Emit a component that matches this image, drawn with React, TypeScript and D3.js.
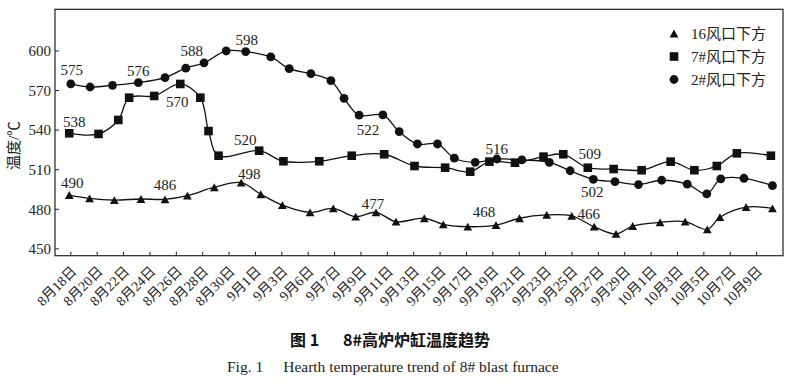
import React from "react";
import * as d3 from "d3";

// ---- data ----
const tickLabels = [
  "8月18日", "8月20日", "8月22日", "8月24日", "8月26日", "8月28日", "8月30日",
  "9月1日", "9月3日", "9月6日", "9月7日", "9月9日", "9月11日", "9月13日", "9月15日",
  "9月17日", "9月19日", "9月21日", "9月23日", "9月25日", "9月27日", "9月29日",
  "10月1日", "10月3日", "10月5日", "10月7日", "10月9日",
];
const yTicks = [450, 480, 510, 540, 570, 600];

// series "2#风口下方" (circles): x in tick-index units
const circleX = [0, 0.73, 1.58, 2.56, 3.57, 4.36, 5.05, 5.89, 6.63, 7.58, 8.28, 9.10, 9.86, 10.36, 10.93, 11.83, 12.45, 13.14, 13.90, 14.54, 15.33, 16.15, 17.10, 18.14, 18.93, 19.81, 20.63, 21.52, 22.40, 23.37, 24.11, 24.64, 25.52, 26.60];
const circleY = [575, 572.7, 574, 576, 579.8, 587, 591, 600, 599.5, 595.5, 586.6, 582.8, 577.5, 564.1, 551.3, 551.5, 538.8, 529.5, 529.5, 518.7, 515.6, 518.1, 517.4, 515.6, 509.2, 502.7, 500.9, 498.7, 502, 499, 491.6, 503, 503.5, 497.9];

// series "7#风口下方" (squares)
const squareX = [-0.06, 1.05, 1.80, 2.21, 3.16, 4.15, 4.91, 5.22, 5.60, 7.14, 8.06, 9.42, 10.65, 11.88, 13.03, 14.19, 15.14, 15.87, 16.84, 17.92, 18.67, 19.60, 20.58, 21.64, 22.74, 23.64, 24.49, 25.25, 26.54];
const squareY = [537.6, 537.1, 547.7, 564.6, 565.9, 575, 564.6, 539.3, 520.6, 524.4, 516.4, 516.4, 520.6, 521.7, 512.8, 511.5, 508.5, 516.1, 515.3, 519.9, 521.7, 511.5, 510.5, 509.6, 516.1, 509.6, 512.8, 522.4, 520.6];

// series "16风口下方" (triangles)
const triX = [-0.06, 0.71, 1.65, 2.66, 3.57, 4.42, 5.44, 6.46, 7.20, 8.02, 9.07, 9.95, 10.80, 11.57, 12.33, 13.40, 14.12, 15.05, 16.12, 17.01, 18.04, 18.99, 19.84, 20.67, 21.30, 22.34, 23.29, 24.13, 24.61, 25.60, 26.60];
const triY = [490.8, 488.3, 487, 487.8, 487.5, 490.3, 496.7, 500.2, 491.4, 483.2, 477.7, 480.7, 474.4, 477.7, 470.6, 473.2, 468.6, 466.8, 468, 473.2, 475.7, 475, 466.8, 461.3, 467.3, 470.1, 470.6, 464.8, 474, 481.6, 480.7];

const seriesNames = ["16风口下方", "7#风口下方", "2#风口下方"];

// value annotations: series key, point index, text
const annSeries = ["c", "c", "c", "c", "c", "c", "c", "s", "s", "s", "s", "t", "t", "t", "t", "t", "t"];
const annIndex = [0, 3, 5, 8, 14, 21, 25, 0, 5, 9, 21, 0, 4, 7, 13, 18, 21];
const annText = ["575", "576", "588", "598", "522", "516", "502", "538", "570", "520", "509", "490", "486", "498", "477", "468", "466"];

// ---- layout ----
const W = 793, H = 382;
const L = 55, R = 783, T = 9.3, B = 255.7;
const annOffsets: [number, number][] = [
  [1, -14], [0, -12], [6, -17], [1, -12], [9, 15], [0, -10], [-1, 12],
  [5, -12], [-3, 18], [-14, -11], [2, -14],
  [3, -12], [0, -15], [8, -9], [-3, -9], [-12, -13], [17, -2],
];

const serif = "'Liberation Serif', 'Times New Roman', 'Noto Sans CJK SC', serif";
const cjkSans = "'Noto Sans CJK SC', sans-serif";

export default function App() {
  const x = d3.scaleLinear().domain([-0.6, 27]).range([L, R]);
  const y = d3.scaleLinear().domain([444.8, 631.6]).range([B, T]);
  const line = d3
    .line<[number, number]>()
    .x((d) => x(d[0]))
    .y((d) => y(d[1]))
    .curve(d3.curveCatmullRom.alpha(0.5));

  const zip = (a: number[], b: number[]) => a.map((v, i) => [v, b[i]] as [number, number]);
  const cData = zip(circleX, circleY);
  const sData = zip(squareX, squareY);
  const tData = zip(triX, triY);
  const dataByKey: Record<string, [number, number][]> = { c: cData, s: sData, t: tData };

  const sq = 8.6;
  const triPath = (cx: number, cy: number, w = 8.8, h = 7.8) =>
    `M${cx},${cy - h / 2}L${cx + w / 2},${cy + h / 2}L${cx - w / 2},${cy + h / 2}Z`;

  const tickIdx = d3.range(tickLabels.length);

  return (
    <svg
      width={W}
      height={H}
      style={{ position: "absolute", left: 0, top: 0, background: "#fff" }}
      fontFamily={serif}
    >
      <rect x={0} y={0} width={W} height={H} fill="#fff" />
      {/* frame */}
      <rect x={L} y={T} width={R - L} height={B - T} fill="none" stroke="#222" strokeWidth={1.2} />

      {/* y ticks */}
      {yTicks.map((v) => (
        <g key={v}>
          <line x1={L} x2={L + 4} y1={y(v)} y2={y(v)} stroke="#222" strokeWidth={1} />
          <text x={L - 4} y={y(v)} dy="0.35em" textAnchor="end" fontSize={15} fill="#222">
            {v}
          </text>
        </g>
      ))}
      <text
        transform={`translate(14,${(T + B) / 2 + 13}) rotate(-90)`}
        textAnchor="middle"
        dy="0.35em"
        fontSize={15}
        fill="#222"
      >
        温度/℃
      </text>

      {/* x ticks */}
      {tickIdx.map((i) => (
        <g key={i}>
          <line x1={x(i)} x2={x(i)} y1={B} y2={B - 4} stroke="#222" strokeWidth={1} />
          <text
            transform={`translate(${x(i) + 3},${B + 13}) rotate(-45)`}
            textAnchor="end"
            dy="0.35em"
            fontSize={14}
            fill="#222"
          >
            {tickLabels[i]}
          </text>
        </g>
      ))}

      {/* lines */}
      {[tData, sData, cData].map((d, k) => (
        <path key={k} d={line(d) || ""} fill="none" stroke="#111" strokeWidth={1.3} />
      ))}

      {/* markers */}
      {cData.map((d, i) => (
        <circle key={"c" + i} cx={x(d[0])} cy={y(d[1])} r={4.4} fill="#111" />
      ))}
      {sData.map((d, i) => (
        <rect key={"s" + i} x={x(d[0]) - sq / 2} y={y(d[1]) - sq / 2} width={sq} height={sq} fill="#111" />
      ))}
      {tData.map((d, i) => (
        <path key={"t" + i} d={triPath(x(d[0]), y(d[1]))} fill="#111" />
      ))}

      {/* annotations */}
      {annText.map((t, k) => {
        const p = dataByKey[annSeries[k]][annIndex[k]];
        const [dx, dy] = annOffsets[k];
        return (
          <text
            key={"a" + k}
            x={x(p[0]) + dx}
            y={y(p[1]) + dy}
            dy="0.35em"
            textAnchor="middle"
            fontSize={15}
            fill="#222"
          >
            {t}
          </text>
        );
      })}

      {/* legend */}
      {seriesNames.map((n, k) => {
        const ly = 33.5 + k * 23;
        const lx = 674;
        return (
          <g key={n}>
            {k === 0 && <path d={triPath(lx, ly, 8.8, 7.8)} fill="#111" />}
            {k === 1 && <rect x={lx - 4.3} y={ly - 4.3} width={8.6} height={8.6} fill="#111" />}
            {k === 2 && <circle cx={lx} cy={ly} r={4.4} fill="#111" />}
            <text x={691} y={ly} dy="0.35em" fontSize={15} fill="#222">
              {n}
            </text>
          </g>
        );
      })}

      {/* captions */}
      <text x={290} y={340} dy="0.35em" fontSize={16} fontWeight="bold" fill="#111" fontFamily={cjkSans}>
        图 1<tspan dx={24}>8#高炉炉缸温度趋势</tspan>
      </text>
      <text x={227} y={366.5} dy="0.35em" fontSize={15.5} fill="#222">
        Fig. 1<tspan dx={20}>Hearth temperature trend of 8# blast furnace</tspan>
      </text>
    </svg>
  );
}
